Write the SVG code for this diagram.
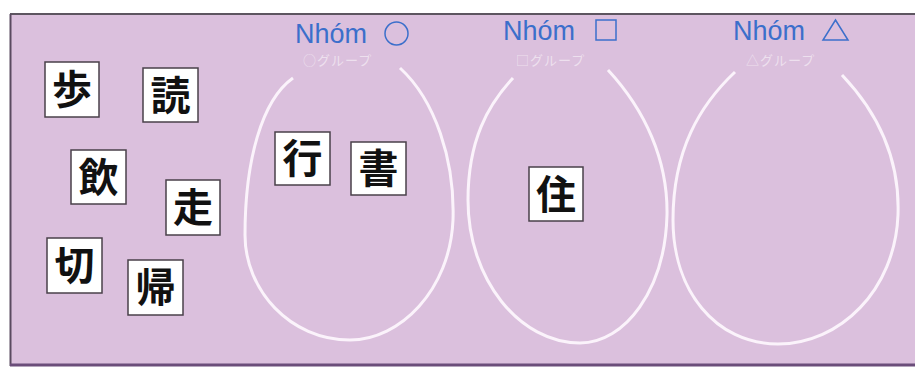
<svg xmlns="http://www.w3.org/2000/svg" width="915" height="367" viewBox="0 0 915 367">
<style>
.card rect{fill:#ffffff;stroke:#4a404a;stroke-width:1.5}
.card text{font-family:"Noto Sans CJK JP","Noto Sans CJK SC",sans-serif;font-size:40px;font-weight:700;fill:#111;text-anchor:middle}
.egg{fill:none;stroke:#fbf3fb;stroke-width:3}
.title{font-family:"Liberation Sans",Arial,sans-serif;font-size:27px;fill:#3b6fcb}
.sub{font-family:"Noto Sans CJK JP",sans-serif;font-size:13px;letter-spacing:1px;fill:#f6eef6;opacity:0.7}
</style>
<rect x="0" y="0" width="915" height="367" fill="#ffffff"/>
<rect x="10" y="14" width="910" height="350" fill="#dbc0dd"/>
<line x1="10" y1="14" x2="915" y2="14" stroke="#5d5560" stroke-width="2"/>
<line x1="10.5" y1="14" x2="10.5" y2="366" stroke="#5a4a60" stroke-width="2"/>
<line x1="10" y1="365" x2="915" y2="365" stroke="#6b4d7a" stroke-width="3"/>

<g id="eggs">
<path class="egg" d="M400,68 C435,100 455,160 453,220 C450,290 400,340 350,340 C290,340 245,290 245,235 C245,160 262,100 293,78"/>
<path class="egg" d="M608,70 C645,110 668,160 667,215 C665,290 625,343 580,343 C520,343 468,280 468,200 C468,140 488,105 513,78"/>
<path class="egg" d="M842,75 C880,115 900,160 898,215 C895,290 840,344 778,344 C715,344 673,290 673,220 C673,150 700,105 735,72"/>
</g>

<g id="labels">
<text class="title" x="295" y="43">Nhóm</text>
<circle cx="396.5" cy="33.5" r="11.5" fill="none" stroke="#3b6fcb" stroke-width="1.5"/>
<text class="title" x="503" y="40">Nhóm</text>
<rect x="596" y="20" width="20" height="20" fill="none" stroke="#3b6fcb" stroke-width="1.5"/>
<text class="title" x="733" y="40">Nhóm</text>
<polygon points="835.5,20 848,40 823,40" fill="none" stroke="#3b6fcb" stroke-width="1.5"/>
<text class="sub" x="303" y="65">○グループ</text>
<text class="sub" x="516" y="65">□グループ</text>
<text class="sub" x="746" y="65">△グループ</text>
</g>

<g id="card-ho" class="card"><rect x="45" y="62" width="54" height="55"/><text x="72" y="104">歩</text></g>
<g id="card-doku" class="card"><rect x="143" y="68" width="55" height="54"/><text x="170.5" y="110">読</text></g>
<g id="card-in" class="card"><rect x="71" y="150" width="55" height="54"/><text x="98.5" y="192">飲</text></g>
<g id="card-sou" class="card"><rect x="166" y="180" width="54" height="55"/><text x="193" y="222">走</text></g>
<g id="card-setsu" class="card"><rect x="47" y="238" width="55" height="55"/><text x="74.5" y="280">切</text></g>
<g id="card-ki" class="card"><rect x="128" y="260" width="55" height="55"/><text x="155.5" y="302">帰</text></g>
<g id="card-kou" class="card"><rect x="275" y="132" width="55" height="53"/><text x="302.5" y="173">行</text></g>
<g id="card-sho" class="card"><rect x="351" y="142" width="55" height="53"/><text x="378.5" y="183">書</text></g>
<g id="card-ju" class="card"><rect x="529" y="167" width="54" height="54"/><text x="556" y="209">住</text></g>
</svg>
